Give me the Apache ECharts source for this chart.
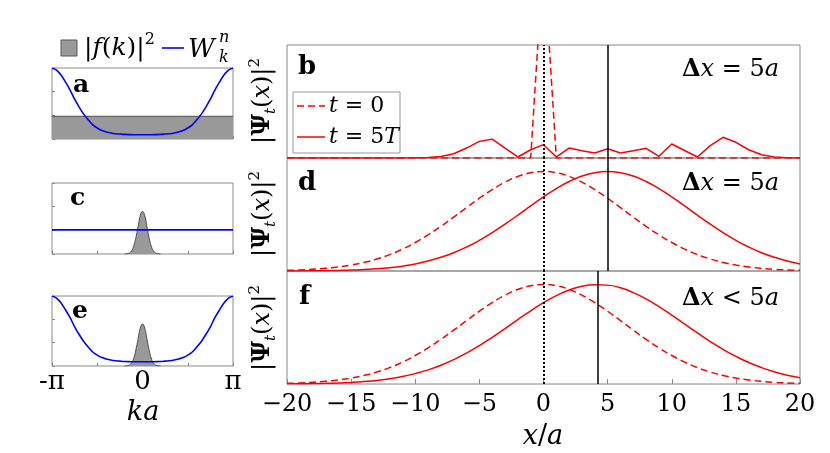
<!DOCTYPE html>
<html>
<head>
<meta charset="utf-8">
<script src="https://cdn.jsdelivr.net/npm/echarts@6/dist/echarts.min.js"></script>
<style>
  html, body { margin: 0; padding: 0; background: #fff; }
  #main { width: 830px; height: 453px; }
</style>
</head>
<body>
<div id="main"></div>
<script>
// left panels: k in units of pi
var kW = [-1, -0.95, -0.9, -0.85, -0.8, -0.75, -0.7, -0.65, -0.6, -0.55, -0.5, -0.45, -0.4, -0.35, -0.3, -0.25, -0.2, -0.15, -0.1, -0.05,
  0, 0.05, 0.1, 0.15, 0.2, 0.25, 0.3, 0.35, 0.4, 0.45, 0.5, 0.55, 0.6, 0.65, 0.7, 0.75, 0.8, 0.85, 0.9, 0.95, 1];
var wVals = [3.00, 2.91, 2.70, 2.40, 2.07, 1.68, 1.35, 1.05, 0.81, 0.60, 0.465, 0.36, 0.30, 0.255, 0.225, 0.21, 0.195, 0.186, 0.18, 0.18,
  0.18, 0.18, 0.18, 0.186, 0.195, 0.21, 0.225, 0.255, 0.30, 0.36, 0.465, 0.60, 0.81, 1.05, 1.35, 1.68, 2.07, 2.40, 2.70, 2.91, 3.00];
var kGauss = [-0.2, -0.175, -0.15, -0.125, -0.1, -0.075, -0.05, -0.025, 0, 0.025, 0.05, 0.075, 0.1, 0.125, 0.15, 0.175, 0.2];
var gaussVals = [0, 0.009, 0.033, 0.11, 0.30, 0.66, 1.14, 1.62, 1.80, 1.62, 1.14, 0.66, 0.30, 0.11, 0.033, 0.009, 0];
var kFlat = [-1, 1];
var flatF = [0.96, 0.96];   // |f(k)|^2 in panel a
var flatW = [1.02, 1.02];   // W in panel c

// right panels: x/a
var xPos = [-20, -19, -18, -17, -16, -15, -14, -13, -12, -11, -10, -9, -8, -7, -6, -5, -4, -3, -2, -1,
  0, 1, 2, 3, 4, 5, 6, 7, 8, 9, 10, 11, 12, 13, 14, 15, 16, 17, 18, 19, 20];
var bDashed = [0, 0, 0, 0, 0, 0, 0, 0, 0, 0, 0, 0, 0, 0, 0, 0, 0, 0, 0, 0,
  1.8, 0, 0, 0, 0, 0, 0, 0, 0, 0, 0, 0, 0, 0, 0, 0, 0, 0, 0, 0, 0];
var bSolid = [0, 0, 0, 0, 0, 0, 0, 0, 0.001, 0.001, 0.002, 0.004, 0.013, 0.038, 0.088, 0.147, 0.167, 0.088, 0.009, 0.073,
  0.118, 0.009, 0.088, 0.065, 0.044, 0.082, 0.044, 0.065, 0.086, 0.015, 0.124, 0.066, 0.009, 0.109, 0.183, 0.139, 0.073, 0.029, 0.009, 0.003, 0.001];
var dashedGauss = [0.0059, 0.0096, 0.015, 0.024, 0.036, 0.053, 0.076, 0.106, 0.145, 0.194, 0.252, 0.320, 0.395, 0.477, 0.561, 0.644, 0.720, 0.786, 0.837, 0.869,
  0.880, 0.869, 0.837, 0.786, 0.720, 0.644, 0.561, 0.477, 0.395, 0.320, 0.252, 0.194, 0.145, 0.106, 0.076, 0.053, 0.036, 0.024, 0.015, 0.0096, 0.0059];
var dSolid = [0.001, 0.001, 0.002, 0.003, 0.005, 0.008, 0.013, 0.019, 0.029, 0.043, 0.062, 0.088, 0.121, 0.162, 0.212, 0.271, 0.339, 0.415, 0.494, 0.576,
  0.656, 0.729, 0.792, 0.840, 0.870, 0.880, 0.870, 0.840, 0.792, 0.729, 0.656, 0.576, 0.494, 0.415, 0.339, 0.271, 0.212, 0.162, 0.121, 0.088, 0.062];
var fSolid = [0.0013, 0.0022, 0.0036, 0.0058, 0.0092, 0.0143, 0.0217, 0.032, 0.047, 0.066, 0.092, 0.125, 0.166, 0.216, 0.274, 0.340, 0.413, 0.491, 0.570, 0.648,
  0.720, 0.782, 0.832, 0.865, 0.879, 0.875, 0.851, 0.809, 0.753, 0.685, 0.610, 0.530, 0.452, 0.376, 0.306, 0.244, 0.190, 0.145, 0.108, 0.078, 0.056];
var peakMarks = [5, 5, 4.25];   // solid vertical line in b, d, f
var deltaTexts = ['=', '=', '<'];

var red = '#ff0000', blue = '#0000ff', shade = '#999999', frame = '#8a8a8a';
var serif = 'DejaVu Serif';

function zip(xs, ys) {
  return xs.map(function (x, i) { return [x, ys[i]]; });
}

var myChart = echarts.init(document.getElementById('main'));

var grids = [], xAxes = [], yAxes = [], series = [];
var leftBoxes = [[68, 71], [183, 71], [296, 70]];
leftBoxes.forEach(function (b, i) {
  grids.push({ show: true, left: 52, top: b[0], width: 181, height: b[1], borderColor: frame, borderWidth: 1 });
  xAxes.push({
    type: 'value', gridIndex: i, min: -1, max: 1, interval: 0.5,
    axisLine: { show: false, onZero: false }, splitLine: { show: false },
    axisTick: { show: true, inside: true, length: 3, lineStyle: { color: frame } },
    axisLabel: {
      show: i === 2, margin: 3, color: '#000', fontFamily: serif, fontSize: 26,
      showMinLabel: true, showMaxLabel: true,
      formatter: function (v) { return v === -1 ? '-π' : v === 0 ? '0' : v === 1 ? 'π' : ''; }
    }
  });
  yAxes.push({
    type: 'value', gridIndex: i, min: 0, max: 3, interval: 1,
    axisLine: { show: false, onZero: false }, splitLine: { show: false }, axisLabel: { show: false },
    axisTick: { show: true, inside: true, length: 3, lineStyle: { color: frame } }
  });
});
var rightTops = [45, 158, 271];
rightTops.forEach(function (t, j) {
  var i = j + 3;
  grids.push({ show: true, left: 287, top: t, width: 513, height: 113, borderColor: frame, borderWidth: 1 });
  xAxes.push({
    type: 'value', gridIndex: i, min: -20, max: 20, interval: 5,
    axisLine: { show: false, onZero: false }, splitLine: { show: false },
    axisTick: { show: j === 2, inside: true, length: 5, lineStyle: { color: frame } },
    axisLabel: {
      show: j === 2, margin: 9, color: '#000', fontFamily: serif, fontSize: 24,
      formatter: function (v) { return v < 0 ? '\u2212' + (-v) : String(v); }
    }
  });
  yAxes.push({
    type: 'value', gridIndex: i, min: 0, max: 1,
    axisLine: { show: false, onZero: false }, splitLine: { show: false }, axisLabel: { show: false }, axisTick: { show: false }
  });
});

function shadeSeries(idx, xs, ys, smooth) {
  return {
    type: 'line', xAxisIndex: idx, yAxisIndex: idx, data: zip(xs, ys), smooth: smooth,
    symbol: 'none', lineStyle: { color: '#333', width: 0.8 },
    areaStyle: { color: shade, opacity: 1 }, z: 2
  };
}
function blueSeries(idx, xs, ys) {
  return {
    type: 'line', xAxisIndex: idx, yAxisIndex: idx, data: zip(xs, ys), smooth: 0.3,
    symbol: 'none', lineStyle: { color: blue, width: 1.6 }, z: 3
  };
}
series.push(shadeSeries(0, kFlat, flatF, false), blueSeries(0, kW, wVals));
series.push(shadeSeries(1, kGauss, gaussVals, true), blueSeries(1, kFlat, flatW));
series.push(shadeSeries(2, kGauss, gaussVals, true), blueSeries(2, kW, wVals));

var rightData = [[bDashed, bSolid, false], [dashedGauss, dSolid, true], [dashedGauss, fSolid, true]];
rightData.forEach(function (r, j) {
  var i = j + 3;
  series.push({
    type: 'line', xAxisIndex: i, yAxisIndex: i, data: zip(xPos, r[0]), smooth: r[2],
    symbol: 'none', lineStyle: { color: red, width: 1.5, type: [7, 4] }, z: 3
  });
  series.push({
    type: 'line', xAxisIndex: i, yAxisIndex: i, data: zip(xPos, r[1]), smooth: r[2],
    symbol: 'none', lineStyle: { color: red, width: 1.5 }, z: 3,
    markLine: {
      silent: true, symbol: 'none', label: { show: false }, animation: false,
      data: [
        { xAxis: 0, lineStyle: { color: '#000', width: 2, type: [2, 2] } },
        { xAxis: peakMarks[j], lineStyle: { color: '#000', width: 1.5, type: 'solid' } }
      ]
    }
  });
});

function makeRich(size) {
  var small = Math.round(size * 0.62);
  return {
    i: { fontFamily: serif, fontStyle: 'italic', fontSize: size, fill: '#000' },
    r: { fontFamily: serif, fontSize: size, fill: '#000' },
    bd: { fontFamily: serif, fontWeight: 'bold', fontSize: size, fill: '#000' },
    sub: { fontFamily: serif, fontStyle: 'italic', fontSize: small, fill: '#000', verticalAlign: 'bottom', lineHeight: size * 1.3 },
    sup: { fontFamily: serif, fontSize: small, fill: '#000', verticalAlign: 'top', lineHeight: size * 1.3 }
  };
}

var graphic = [];
function txt(x, y, text, size, opts) {
  var st = { x: x, y: y, text: text, fill: '#000', fontFamily: serif, fontSize: size, align: 'left', verticalAlign: 'middle', rich: makeRich(size) };
  for (var k in opts) st[k] = opts[k];
  return { type: 'text', z: 100, style: st };
}
// left legend
graphic.push({ type: 'rect', z: 100, shape: { x: 61, y: 40, width: 16, height: 16 }, style: { fill: shade, stroke: '#555', lineWidth: 1 } });
graphic.push(txt(84, 48, '{r||}{i|f}{r|(}{i|k}{r|)|}{sup|2}', 25, {}));
graphic.push({ type: 'line', z: 100, shape: { x1: 162, y1: 48, x2: 184, y2: 48 }, style: { stroke: blue, lineWidth: 1.6 } });
graphic.push(txt(188, 50, 'W', 26, { fontStyle: 'italic' }));
graphic.push(txt(219, 38, 'n', 16, { fontStyle: 'italic' }));
graphic.push(txt(219, 58, 'k', 16, { fontStyle: 'italic' }));
// panel letters
[['a', 73, 85], ['c', 70, 198], ['e', 72, 311]].forEach(function (p) {
  graphic.push(txt(p[1], p[2], p[0], 25, { fontWeight: 'bold' }));
});
[['b', 298, 67], ['d', 298, 183], ['f', 299, 297]].forEach(function (p) {
  graphic.push(txt(p[1], p[2], p[0], 26, { fontWeight: 'bold' }));
});
// delta x labels
[70, 184, 299].forEach(function (y, j) {
  graphic.push(txt(779, y, '{bd|Δ}{i|x}{r| ' + deltaTexts[j] + ' 5}{i|a}', 24, { align: 'right' }));
});
// legend in panel b
graphic.push({ type: 'rect', z: 100, shape: { x: 293, y: 92, width: 107, height: 61 }, style: { fill: '#fff', stroke: '#999', lineWidth: 1 } });
graphic.push({ type: 'line', z: 101, shape: { x1: 297, y1: 106, x2: 325, y2: 106 }, style: { stroke: red, lineWidth: 1.5, lineDash: [7, 4] } });
graphic.push({ type: 'line', z: 101, shape: { x1: 297, y1: 137, x2: 325, y2: 137 }, style: { stroke: red, lineWidth: 1.5 } });
graphic.push(txt(329, 106, '{i|t}{r| = 0}', 22, {}));
graphic.push(txt(329, 137, '{i|t}{r| = 5}{i|T}', 22, {}));
// y labels
[101, 214, 328].forEach(function (y) {
  graphic.push({
    type: 'text', z: 100, x: 263, y: y, rotation: Math.PI / 2,
    style: { text: '{r||}{bd|Ψ}{sub|t}{r|(}{i|x}{r|)|}{sup|2}', rich: makeRich(24), align: 'center', verticalAlign: 'middle', fontFamily: serif, fontSize: 24 }
  });
});
// axis titles
graphic.push(txt(543, 437, '{i|x}{r|/}{i|a}', 27, { align: 'center' }));
graphic.push(txt(143, 413, '{i|ka}', 27, { align: 'center' }));

var option = {
  animation: false,
  backgroundColor: '#fff',
  grid: grids,
  xAxis: xAxes,
  yAxis: yAxes,
  series: series,
  graphic: graphic
};
myChart.setOption(option);
</script>
</body>
</html>
